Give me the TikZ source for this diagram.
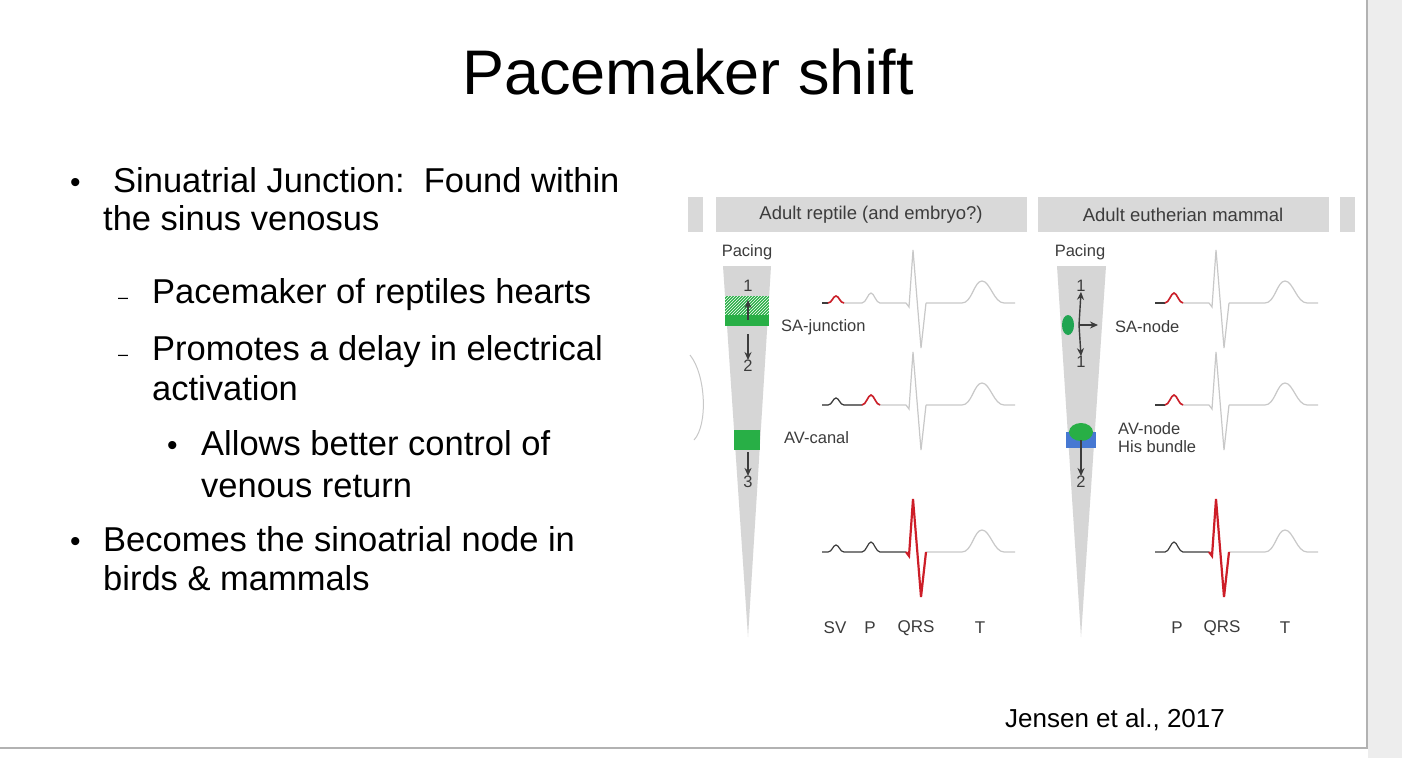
\documentclass[tikz,border=0pt]{standalone}
\usepackage{fontspec}
\setmainfont{Liberation Sans}
\usetikzlibrary{patterns,arrows.meta}
\definecolor{ecggray}{RGB}{200,200,200}
\definecolor{ecgdark}{RGB}{60,60,60}
\definecolor{ecgred}{RGB}{205,30,40}
\definecolor{bargray}{RGB}{217,217,217}
\definecolor{cone}{RGB}{214,214,214}
\definecolor{sagreen}{RGB}{40,175,70}
\definecolor{hisblue}{RGB}{70,120,210}
% ECG pieces, origin at the start of the trace
\newcommand\ecgsv{(0,0) -- (6,0) .. controls (10,0) and (11,-7) .. (14,-7) .. controls (17,-7) and (18,0) .. (22,0) -- (40,0)}
\newcommand\ecgp{(40,0) .. controls (44,0) and (46,-10) .. (49,-10) .. controls (52,-10) and (54,0) .. (58,0) -- (84,0)}
\newcommand\ecgqrs{(84,0) -- (87,4) -- (91,-53) -- (99,45) -- (104,0)}
\newcommand\ecgt{(104,0) -- (140,0) .. controls (150,0) and (152,-22) .. (160,-22) .. controls (168,-22) and (172,0) .. (182,0) -- (193,0)}
\tikzset{
  trace/.style={ecggray, line width=1.2pt},
  dark/.style={ecgdark, line width=1.2pt},
  hot/.style={ecgred, line width=1.6pt},
  bullettext/.style={anchor=base west, inner sep=0pt, font=\fontsize{34.5}{40}\selectfont},
  small/.style={inner sep=0pt, font=\fontsize{16.5}{18}\selectfont, text=ecgdark},
  wave/.style={inner sep=0pt, font=\fontsize{17}{19}\selectfont, text=ecgdark},
  arr/.style={-{Stealth[length=8pt,width=7pt]}, ecgdark, line width=1.4pt}
}
\begin{document}
\begin{tikzpicture}[x=1pt,y=-1pt]
\useasboundingbox (0,0) rectangle (1402,758);
% slide frame
\fill[white] (0,0) rectangle (1402,758);
\fill[black!7] (1368,0) rectangle (1402,758);
\draw[black!30, line width=1.5pt] (1367,0) -- (1367,748) -- (0,748);

\node[inner sep=0pt, font=\fontsize{63}{72}\selectfont] (title) at (688,72) {Pacemaker shift};

\node[bullettext, font=\fontsize{30}{30}\selectfont] (b1) at (70,192) {•};
\node[bullettext] (t1) at (113,192) {Sinuatrial Junction:\ \ Found within};
\node[bullettext] (t1b) at (103,230) {the sinus venosus};
\node[bullettext, font=\fontsize{18}{20}\selectfont] (d1) at (118,303) {–};
\node[bullettext] (t2) at (152,303) {Pacemaker of reptiles hearts};
\node[bullettext, font=\fontsize{18}{20}\selectfont] (d2) at (118,360) {–};
\node[bullettext] (t3) at (152,360) {Promotes a delay in electrical};
\node[bullettext] (t3b) at (152,400) {activation};
\node[bullettext, font=\fontsize{30}{30}\selectfont] (b2) at (167,455) {•};
\node[bullettext] (t4) at (201,455) {Allows better control of};
\node[bullettext] (t4b) at (201,497) {venous return};
\node[bullettext, font=\fontsize{30}{30}\selectfont] (b3) at (70,551) {•};
\node[bullettext] (t5) at (103,551) {Becomes the sinoatrial node in};
\node[bullettext] (t5b) at (103,590) {birds \& mammals};

\node[inner sep=0pt, font=\fontsize{26}{30}\selectfont] (cite) at (1115,720) {Jensen et al., 2017};

% figure headers
\fill[bargray] (688,197) rectangle (703,232);
\fill[bargray] (716,197) rectangle (1027,232);
\fill[bargray] (1038,197) rectangle (1329,232);
\fill[bargray] (1340,197) rectangle (1355,232);
\node[small, font=\fontsize{18.5}{20}\selectfont] (hrep) at (871,215) {Adult reptile (and embryo?)};
\node[small, font=\fontsize{18.5}{20}\selectfont] (hmam) at (1183,215) {Adult eutherian mammal};
\draw[ecggray, line width=1pt] (690,355) .. controls (706,375) and (708,425) .. (694,440);

% reptile cone
\fill[cone] (723,266) -- (771,266) -- (748,637) -- cycle;
\node[small] (prep) at (747,252) {Pacing};
\fill[sagreen] (725,296) rectangle (769,326);
\fill[pattern=north east lines, pattern color=white] (725,296) rectangle (769,314);
\fill[sagreen] (734,430) rectangle (760,450);
\node[small] (r1) at (748,286) {1};
\node[small] (r2) at (748,366) {2};
\node[small] (r3) at (748,482) {3};
\coordinate (ra) at (748,320);
\coordinate (rb) at (748,300);
\draw[arr] (ra) -- (rb);
\draw[arr] (748,334) -- (r2.north);
\draw[arr] (748,452) -- (r3.north);
\node[small, anchor=west] (saj) at (781,327) {SA-junction};
\node[small, anchor=west] (avc) at (784,438) {AV-canal};

% mammal cone
\fill[cone] (1057,266) -- (1106,266) -- (1081,637) -- cycle;
\node[small] (pmam) at (1080,252) {Pacing};
\fill[sagreen!80!teal] (1068,325) ellipse (6 and 10);
\fill[hisblue] (1066,432) rectangle (1096,448);
\fill[sagreen] (1081,432) ellipse (12 and 9);
\node[small] (m1) at (1081,286) {1};
\node[small] (m1b) at (1081,362) {1};
\node[small] (m2) at (1081,482) {2};
\coordinate (mc) at (1079,325);
\draw[arr] (mc) -- (m1.south);
\draw[arr] (mc) -- (1098,325);
\draw[arr] (mc) -- (m1b.north);
\draw[arr] (1081,440) -- (m2.north);
\node[small, anchor=west] (san) at (1115,327) {SA-node};
\node[small, anchor=west, align=left] (avn) at (1118,438) {AV-node\\His bundle};

% reptile traces
\begin{scope}[shift={(822,303)}]
\draw[trace] \ecgsv; \draw[trace] \ecgp; \draw[trace] \ecgqrs; \draw[trace] \ecgt;
\draw[dark] (0,0) -- (6,0); \draw[hot] (6,0) .. controls (10,0) and (11,-7) .. (14,-7) .. controls (17,-7) and (18,0) .. (22,0);
\end{scope}
\begin{scope}[shift={(822,405)}]
\draw[trace] \ecgsv; \draw[trace] \ecgp; \draw[trace] \ecgqrs; \draw[trace] \ecgt;
\draw[dark] \ecgsv; \draw[hot] (40,0) .. controls (44,0) and (46,-10) .. (49,-10) .. controls (52,-10) and (54,0) .. (58,0);
\end{scope}
\begin{scope}[shift={(822,552)}]
\draw[trace] \ecgt;
\draw[dark] \ecgsv; \draw[dark] \ecgp; \draw[hot, line width=2.2pt] \ecgqrs;
\end{scope}
% mammal traces
\foreach \ry in {303,405} {
\begin{scope}[shift={(1125,\ry)}]
\draw[trace] (30,0) -- (40,0) -- \ecgp; \draw[trace] \ecgqrs; \draw[trace] \ecgt;
\draw[dark] (30,0) -- (40,0); \draw[hot] (40,0) .. controls (44,0) and (46,-10) .. (49,-10) .. controls (52,-10) and (54,0) .. (58,0);
\end{scope}
}
\begin{scope}[shift={(1125,552)}]
\draw[trace] \ecgt;
\draw[dark] (30,0) -- (40,0) -- \ecgp; \draw[hot, line width=2.2pt] \ecgqrs;
\end{scope}

% wave labels
\node[wave] (lsv) at (835,628) {SV};
\node[wave] (lp) at (870,628) {P};
\node[wave] (lqrs) at (916,628) {QRS};
\node[wave] (lt) at (980,628) {T};
\node[wave] (mp) at (1177,628) {P};
\node[wave] (mqrs) at (1222,628) {QRS};
\node[wave] (mt) at (1285,628) {T};
\end{tikzpicture}
\end{document}
